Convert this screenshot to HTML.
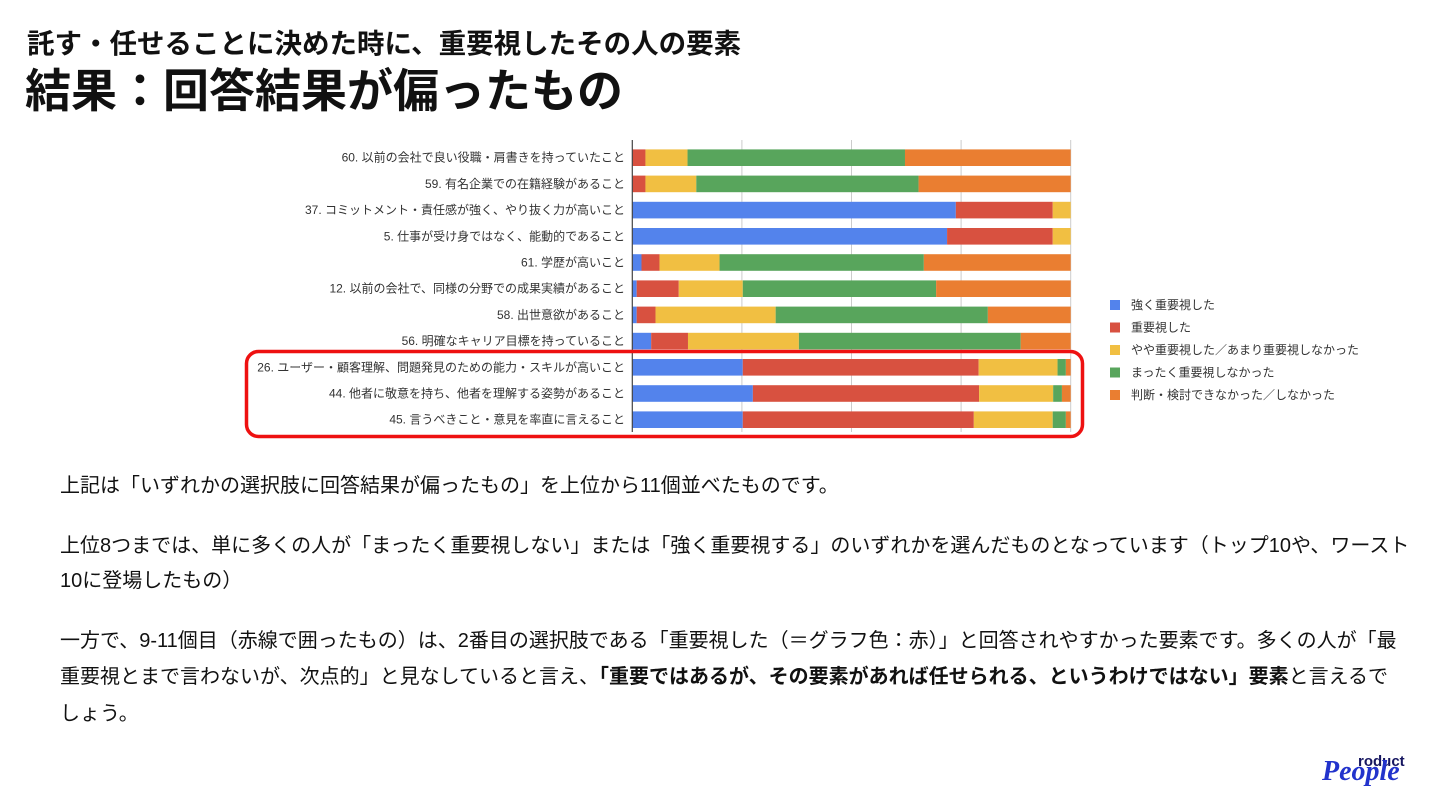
<!DOCTYPE html>
<html lang="ja"><head><meta charset="utf-8">
<style>
html,body{margin:0;padding:0;background:#fff;}
body{width:1440px;height:810px;position:relative;overflow:hidden;font-family:"Liberation Sans","Noto Sans CJK JP",sans-serif;color:#111;}
.t1{position:absolute;left:27px;top:26px;font-size:27.5px;line-height:36px;font-weight:bold;}
.t2{position:absolute;left:25px;top:61px;font-size:46px;line-height:60px;font-weight:bold;}
.p{position:absolute;left:60px;font-size:20px;line-height:26px;white-space:nowrap;color:#111;}
#chart{position:absolute;left:0;top:0;}
.logo{position:absolute;left:1322px;top:750px;width:100px;height:50px;font-style:italic;font-weight:bold;}
</style></head><body>
<div class="t1">託す・任せることに決めた時に、重要視したその人の要素</div>
<div class="t2">結果：回答結果が偏ったもの</div>
<svg id="chart" width="1440" height="460"></svg>
<div class="p" style="top:473px">上記は「いずれかの選択肢に回答結果が偏ったもの」を上位から11個並べたものです。</div>
<div class="p" style="top:533px">上位8つまでは、単に多くの人が「まったく重要視しない」または「強く重要視する」のいずれかを選んだものとなっています（トップ10や、ワースト</div>
<div class="p" style="top:568px">10に登場したもの）</div>
<div class="p" style="top:628px">一方で、9-11個目（赤線で囲ったもの）は、2番目の選択肢である「重要視した（＝グラフ色：赤）」と回答されやすかった要素です。多くの人が「最</div>
<div class="p" style="top:664px">重要視とまで言わないが、次点的」と見なしていると言え、<b>「重要ではあるが、その要素があれば任せられる、というわけではない」要素</b>と言えるで</div>
<div class="p" style="top:701px">しょう。</div>
<div class="logo"><span style="font-size:15px;position:absolute;left:36px;top:3px;font-style:normal;color:#161660">roduct</span><span style="font-size:28px;position:absolute;left:0;top:6px;font-family:'Liberation Serif',serif;color:#2233cc">People</span></div>
<script>
const categories=["60. 以前の会社で良い役職・肩書きを持っていたこと","59. 有名企業での在籍経験があること","37. コミットメント・責任感が強く、やり抜く力が高いこと","5. 仕事が受け身ではなく、能動的であること","61. 学歴が高いこと","12. 以前の会社で、同様の分野での成果実績があること","58. 出世意欲があること","56. 明確なキャリア目標を持っていること","26. ユーザー・顧客理解、問題発見のための能力・スキルが高いこと","44. 他者に敬意を持ち、他者を理解する姿勢があること","45. 言うべきこと・意見を率直に言えること"];
const seriesNames=["強く重要視した","重要視した","やや重要視した／あまり重要視しなかった","まったく重要視しなかった","判断・検討できなかった／しなかった"];
const strong=[0,0,73.8,71.8,2.1,1.0,1.0,4.3,25.2,27.5,25.2];
const important=[3.0,3.0,22.1,24.1,4.1,9.6,4.3,8.4,53.8,51.6,52.7];
const somewhat=[9.6,11.6,4.1,4.1,13.7,14.6,27.4,25.3,18.0,16.9,18.0];
const none=[49.6,50.7,0,0,46.6,44.1,48.4,50.6,1.9,2.0,3.0];
const unsure=[37.8,34.7,0,0,33.5,30.7,18.9,11.4,1.1,2.0,1.1];
const colors=["#5383ec","#d85140","#f1bf42","#58a55c","#ea7e31"];
const series=[strong,important,somewhat,none,unsure];
const NS="http://www.w3.org/2000/svg";
const svg=document.getElementById('chart');
const x0=632.3,x1=1070.7,y0=157.7,step=26.2,bh=16.6;
const xs=v=>x0+(v/100)*(x1-x0);
const yc=i=>y0+i*step;
function mk(t,a){const e=document.createElementNS(NS,t);for(const k in a)e.setAttribute(k,a[k]);svg.appendChild(e);return e;}
[25,50,75,100].forEach(g=>{const l=mk('line',{x1:xs(g),x2:xs(g),y1:140,y2:432,stroke:'#ccc','stroke-width':1});

});
categories.forEach((c,i)=>{
  const tot=series.reduce((s,a)=>s+a[i],0);let acc=0;
  series.forEach((arr,k)=>{const v=arr[i]/tot*100;if(v<=0)return;
    const r=mk('rect',{x:xs(acc),y:yc(i)-bh/2,width:xs(acc+v)-xs(acc),height:bh,fill:colors[k]});
    
    
    acc+=v;});
  const t=mk('text',{x:625,y:yc(i)+4,'text-anchor':'end','font-size':'12',fill:'#333'});
  t.textContent=c;
  
  
});
const ax=mk('line',{x1:x0,x2:x0,y1:140,y2:432,stroke:'#444','stroke-width':1.2});


seriesNames.forEach((n,k)=>{const y=305+k*22.5;
  const r=mk('rect',{x:1110,y:y-5,width:10,height:10,fill:colors[k]});
  
  
  const t=mk('text',{x:1131,y:y+4,'font-size':'12',fill:'#333'});
  t.textContent=n;
  
  
});
const hl=mk('rect',{x:246.5,y:351.5,width:836,height:85,rx:12,fill:'none',stroke:'#ee1111','stroke-width':3.5});


</script>
</body></html>
